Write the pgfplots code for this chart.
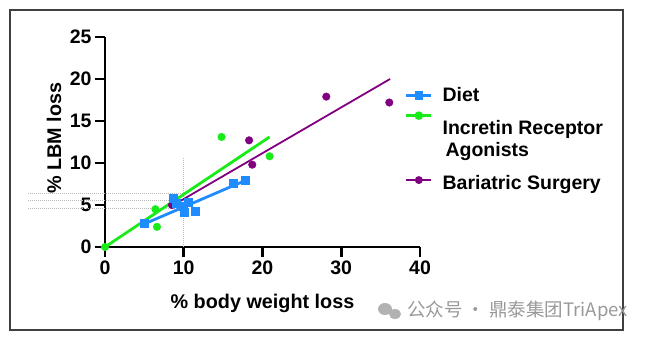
\documentclass[border=0pt]{standalone}
\usepackage{fontspec}
\setmainfont{Liberation Sans}
\newfontfamily\cjk{Noto Sans CJK SC}
\usepackage{pgfplots}
\pgfplotsset{compat=1.18}
\definecolor{dietblue}{RGB}{30,140,255}
\definecolor{incgreen}{RGB}{25,235,25}
\definecolor{barpurple}{RGB}{128,0,128}
\definecolor{dotgray}{RGB}{185,185,185}
\begin{document}
\begin{tikzpicture}[x=1pt,y=1pt]
\useasboundingbox (0,0) rectangle (647,337);
\draw[line width=1.6pt, black!75] (10,7) rectangle (623,327);
\begin{axis}[
  at={(105pt,90pt)}, anchor=south west,
  scale only axis, width=315pt, height=210pt,
  xmin=0, xmax=40, ymin=0, ymax=25,
  axis lines=left,
  axis line style={line width=2.6pt,-},
  xtick={0,10,20,30,40}, ytick={0,5,10,15,20,25},
  tick align=outside, major tick length=10pt,
  tick style={line width=2.6pt,black},
  tick label style={font=\fontsize{19.5}{19.5}\selectfont\bfseries},
  /pgf/number format/assume math mode=true,
  xlabel={\% body weight loss}, ylabel={\% LBM loss},
  label style={font=\fontsize{19.8}{21}\selectfont\bfseries},
  xlabel style={at={(axis description cs:0.5,-0.267)}, anchor=center},
  ylabel style={at={(axis description cs:-0.162,0.519)}, anchor=center},
  clip=false,
  legend cell align=left,
  legend style={at={(axis description cs:0.952,0.77)}, anchor=north west, draw=none, fill=none,
    font=\fontsize{19.5}{22}\selectfont\bfseries, row sep=7.5pt, inner sep=0pt,
    /tikz/every odd column/.append style={column sep=8pt}},
  legend image code/.code={\draw[mark repeat=2,mark phase=2,#1] plot coordinates {(0pt,0pt) (12.5pt,0pt) (25pt,0pt)};},
]
\addlegendimage{dietblue, line width=2.5pt, mark=square*, mark size=3pt}
\addlegendentry{Diet}
\addlegendimage{incgreen, line width=2.5pt, mark=*, mark size=3pt, yshift=23pt}
\addlegendentry{\begin{tabular}[b]{@{}l@{}}Incretin Receptor\\[0pt]\hspace{3pt}Agonists\end{tabular}}
\addlegendimage{barpurple, line width=1.8pt, mark=*, mark size=3pt}
\addlegendentry{\rule{0pt}{19.5pt}Bariatric Surgery}

% dotted reference lines
\addplot[dotgray, densely dotted, line width=1pt, forget plot] coordinates {(-9.8,6.4) (10,6.4)};
\addplot[dotgray, densely dotted, line width=1pt, forget plot] coordinates {(-9.8,5.5) (10,5.5)};
\addplot[dotgray, densely dotted, line width=1pt, forget plot] coordinates {(-9.8,4.6) (10,4.6)};
\addplot[dotgray, densely dotted, line width=1pt, forget plot] coordinates {(10,0) (10,10.7)};

% fit lines
\addplot[barpurple, line width=1.8pt, forget plot] coordinates {(8.5,4.9) (36.2,20.0)};
\addplot[incgreen, line width=2.8pt, forget plot] coordinates {(0,0) (20.9,13.1)};
\addplot[dietblue, line width=2.8pt, forget plot] coordinates {(5.0,2.75) (17.9,7.95)};

% data points
\addplot[only marks, mark=*, mark size=3.8pt, barpurple, forget plot] coordinates {
 (8.5,5.0) (18.3,12.7) (18.7,9.8) (28.1,17.9) (36.1,17.2)};
\addplot[only marks, mark=*, mark size=3.8pt, incgreen, forget plot] coordinates {
 (0,0) (6.4,4.5) (6.6,2.4) (14.8,13.1) (20.9,10.8)};
\addplot[only marks, mark=square*, mark size=4pt, dietblue, forget plot] coordinates {
 (5.0,2.8) (8.7,5.8) (9.1,5.2) (9.9,4.8) (10.1,4.2) (10.6,5.3) (11.4,4.3) (16.3,7.6) (17.8,7.9)};
\end{axis}
\fill[black!30] (385,28) ellipse (7pt and 6pt);
\fill[black!30] (395,23) ellipse (6pt and 5pt);
\node[anchor=west, text=black!40, font=\cjk\fontsize{18.5}{18.5}\selectfont, inner sep=0pt] at (407,26) {公众号 · 鼎泰集团TriApex};
\end{tikzpicture}
\end{document}
